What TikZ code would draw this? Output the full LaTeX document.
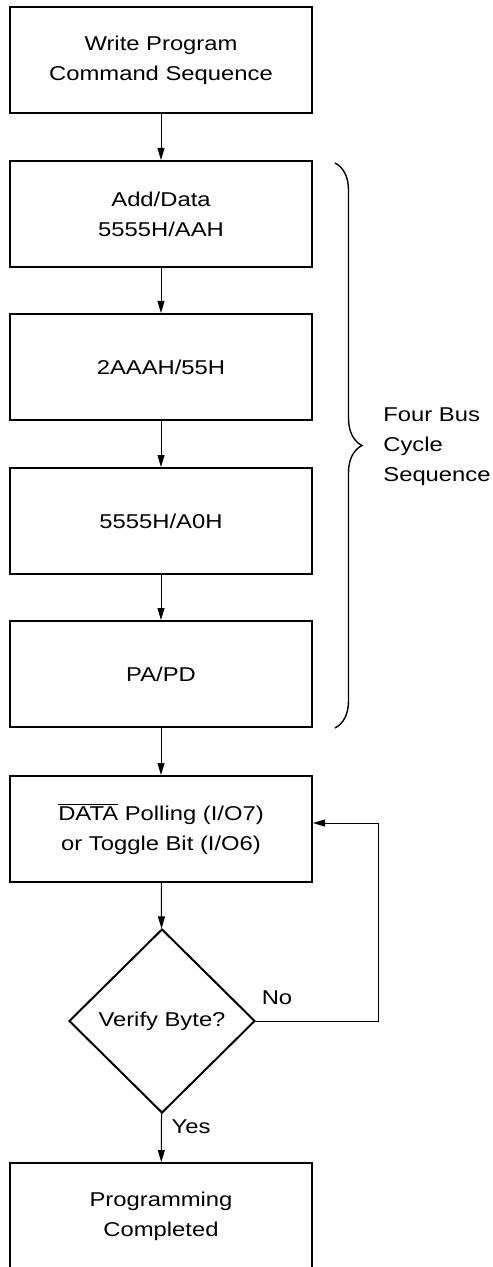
\documentclass[tikz,border=0pt]{standalone}
\usepackage{fontspec}
\setmainfont{Liberation Sans}[FakeStretch=1.19]
\usetikzlibrary{arrows.meta,calc,shapes.geometric,decorations.pathreplacing}

\begin{document}
\begin{tikzpicture}[x=0.5pt,y=-0.5pt,>={Triangle[length=6pt,width=3.5pt]},
  every node/.style={font=\fontsize{10pt}{15pt}\selectfont},
  stepbox/.style={draw,line width=1pt,minimum width=151pt,minimum height=53pt,align=center,inner sep=0pt},
  decision/.style={draw,diamond,line width=1pt,minimum width=93pt,minimum height=92pt,inner sep=0pt},
  link/.style={->,line width=0.5pt}]
\useasboundingbox (0,0) rectangle (492,1267);
\node[stepbox] (write) at (161,60) {Write Program\\Command Sequence};
\node[stepbox] (first) at (161,214) {Add/Data\\5555H/AAH};
\node[stepbox] (second) at (161,367) {2AAAH/55H};
\node[stepbox] (third) at (161,521) {5555H/A0H};
\node[stepbox] (fourth) at (161,674) {PA/PD};
\node[stepbox] (poll) at (161,829) {$\overline{\hbox{DATA}}$ Polling (I/O7)\\or Toggle Bit (I/O6)};
\node[decision] (verify) at (162,1021) {Verify Byte?};
\node[stepbox] (done) at (161,1216) {Programming\\Completed};
\draw[link] (write) -- (first);
\draw[link] (first) -- (second);
\draw[link] (second) -- (third);
\draw[link] (third) -- (fourth);
\draw[link] (fourth) -- (poll);
\draw[link] (poll) -- (verify);
\draw[link] (verify) -- (done);
\coordinate (back) at (378,823);
\draw[link] (verify.east) -| (back) -- (poll.east |- back);
\node (no) at (277,998) {No};
\node (yes) at (191,1127) {Yes};
\coordinate (bracetop) at (335,163);
\coordinate (bracebot) at (335,728);
\draw[line width=0.7pt,decorate,decoration={brace,amplitude=13.5pt}] (bracetop) -- (bracebot);
\node[anchor=west,align=left,inner sep=0pt] (cycles) at (383,447) {Four Bus\\Cycle\\Sequence};
\end{tikzpicture}
\end{document}
